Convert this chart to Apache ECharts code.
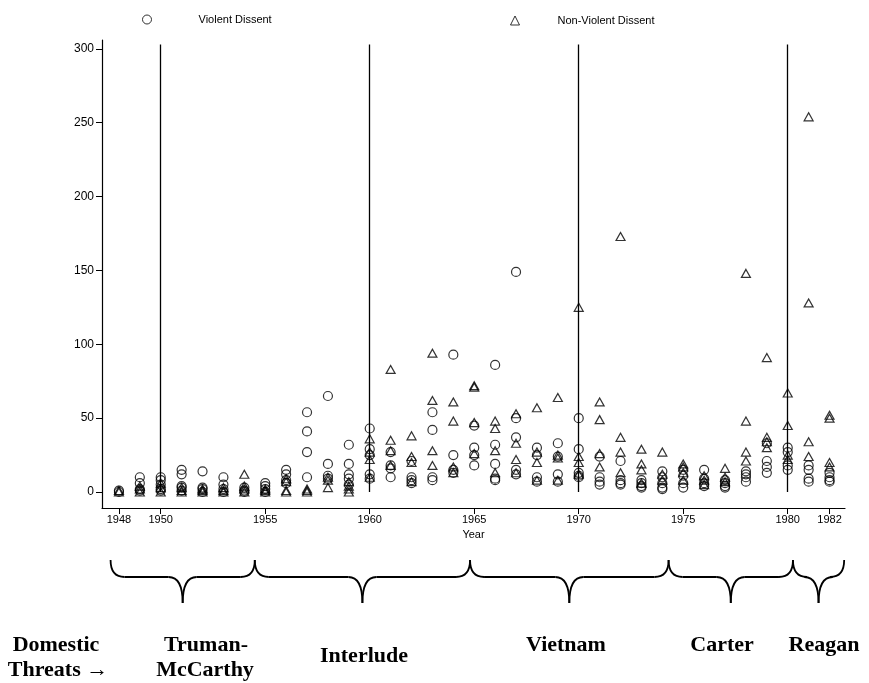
<!DOCTYPE html>
<html>
<head>
<meta charset="utf-8">
<script src="https://cdn.jsdelivr.net/npm/echarts@6/dist/echarts.min.js"></script>
<style>html,body{margin:0;padding:0;background:#fff;}#c{width:869px;height:683px;}</style>
</head>
<body>
<div id="c"></div>
<script>
const years = [1948,1949,1950,1951,1952,1953,1954,1955,1956,1957,1958,1959,1960,1961,1962,1963,1964,1965,1966,1967,1968,1969,1970,1971,1972,1973,1974,1975,1976,1977,1978,1979,1980,1981,1982];
const violent = [
 [1,0],[10,6,2,1],[10,8,5,2,1],[15,12,4,3,1],[14,3,2,0],[10,5,2,0],[3,1,0],[6,4,2,0],
 [15,12,8,6],[54,41,27,10],[65,19,11,9],[32,19,12,9,5],[43,29,25,12,9],[27,18,16,10],
 [21,10,8,6],[54,42,10,8],[93,25,15,13],[45,30,25,18],[86,32,19,9,8],[149,50,37,15,12],
 [30,25,10,7],[33,24,12,7],[50,29,13,11,10],[24,10,7,5],[21,8,6,5],[8,6,4,3],[14,10,6,3,2],
 [15,11,6,3],[15,9,6,4],[8,6,4,3],[14,12,10,7],[33,21,17,13],[30,27,18,15],[18,15,9,7],[13,10,8,7]
];
const nonViolent = [
 [0,1],[4,2,0],[6,3,0],[3,1,0],[2,1,0],[3,1,0],[12,4,2,0],[2,1,0],
 [9,7,1,0],[2,1,0],[10,8,3],[7,4,2,0],[36,27,22,10],[83,35,28,18],
 [38,24,20,7],[94,62,28,18],[61,48,17,13],[72,71,47,26],[48,43,28,13],[53,33,22,13],
 [57,27,20,8],[64,25,23,8],[125,24,20,12],[61,49,26,17],[173,37,27,13],[29,19,15,6],[27,12,8],
 [19,17,13,8],[11,8,5],[16,10,7],[148,48,27,21],[91,37,34,30],[67,45,25,22],[254,128,34,24],[52,50,20,17]
];
const xTickLabels = [1948,1950,1955,1960,1965,1970,1975,1980,1982];
const yTickLabels = [0,50,100,150,200,250,300];
const regimeLines = [1950,1960,1970,1980];
const braceBounds = [1947.6,1954.5,1964.8,1974.3,1980.25,1982.7];
const eraLabels = [
 {t:'Domestic', x:56, y:645},{t:'Threats \u2192', x:58, y:670},
 {t:'Truman-', x:206, y:645},{t:'McCarthy', x:205, y:670},
 {t:'Interlude', x:364, y:656},{t:'Vietnam', x:566, y:645},
 {t:'Carter', x:722, y:645},{t:'Reagan', x:824, y:645}
];

function flatten(arr){const out=[];arr.forEach((vals,i)=>vals.forEach(v=>out.push([years[i],v])));return out;}

const chart = echarts.init(document.getElementById('c'), null, {renderer:'canvas'});
const fontSans = '"Liberation Sans", Arial, Helvetica, sans-serif';
const markStyle = {color:'rgba(255,255,255,0)', borderColor:'#000', borderWidth:1.2};
const option = {
  animation:false,
  backgroundColor:'#fff',
  grid:{left:102,right:24,top:40,bottom:175},
  legend:[
    {data:['Violent Dissent'], left:137, top:9, itemWidth:9, itemHeight:9, itemGap:0,
     itemStyle:{borderWidth:1},
     textStyle:{fontSize:11, fontFamily:fontSans, color:'#000', padding:[0,0,0,42]}},
    {data:['Non-Violent Dissent'], left:505, top:10, itemWidth:9, itemHeight:9,
     itemStyle:{borderWidth:1},
     textStyle:{fontSize:11, fontFamily:fontSans, color:'#000', padding:[0,0,0,33]}}
  ],
  xAxis:{
    type:'value', min:1947.19, max:1982.74,
    name:'Year', nameLocation:'middle', nameGap:19,
    nameTextStyle:{fontSize:11, fontFamily:fontSans, color:'#000'},
    axisLine:{show:true, onZero:false, lineStyle:{color:'#000', width:1.2}},
    axisTick:{show:true, length:6, customValues:xTickLabels, lineStyle:{color:'#000'}},
    axisLabel:{customValues:xTickLabels, formatter:v=>String(v), fontSize:11, fontFamily:fontSans, color:'#000', margin:6},
    splitLine:{show:false}
  },
  yAxis:{
    type:'value', min:-10.83, max:306.0,
    axisLine:{show:true, onZero:false, lineStyle:{color:'#000', width:1.2}},
    axisTick:{show:true, length:6, customValues:yTickLabels, lineStyle:{color:'#000'}},
    axisLabel:{customValues:yTickLabels, formatter:v=>String(v), fontSize:12, fontFamily:fontSans, color:'#000', margin:8},
    splitLine:{show:false}
  },
  series:[
    {name:'Violent Dissent', type:'scatter', symbol:'circle', symbolSize:9,
     itemStyle:markStyle,
     data:flatten(violent),
     markLine:{silent:true, symbol:'none', animation:false, label:{show:false},
       lineStyle:{color:'#000', width:1.3, type:'solid'},
       data:regimeLines.map(y=>[{coord:[y,0]},{coord:[y,303]}])}
    },
    {name:'Non-Violent Dissent', type:'scatter', symbol:'triangle', symbolSize:[9,8],
     itemStyle:markStyle,
     data:flatten(nonViolent)}
  ]
};
chart.setOption(option);

// braces and era labels (annotation below the axis)
const yTop = 560, yMid = 577, yPt = 603, r = 14;
const px = braceBounds.map(v=>chart.convertToPixel({xAxisIndex:0}, v));
const st = {stroke:'#000', lineWidth:1.8, fill:null};
const graphics = [];
function curve(x1,y1,cx,cy,x2,y2){graphics.push({type:'bezierCurve', shape:{x1,y1,x2,y2,cpx1:cx,cpy1:cy}, style:st, silent:true});}
function seg(x1,y1,x2,y2){graphics.push({type:'line', shape:{x1,y1,x2,y2}, style:st, silent:true});}
for(let i=0;i<px.length-1;i++){
  const a=px[i], b=px[i+1], m=(a+b)/2;
  curve(a,yTop,a,yMid,a+r,yMid);
  seg(a+r,yMid,m-r,yMid);
  curve(m-r,yMid,m,yMid,m,yPt);
  curve(m,yPt,m,yMid,m+r,yMid);
  seg(m+r,yMid,b-r,yMid);
  curve(b-r,yMid,b,yMid,b,yTop);
}
eraLabels.forEach(l=>graphics.push({type:'text', x:l.x, y:l.y, silent:true,
  style:{text:l.t, font:'bold 22px "Liberation Serif", "Times New Roman", serif', fill:'#000', align:'center', verticalAlign:'middle'}}));
chart.setOption({graphic:graphics});
</script>
</body>
</html>
